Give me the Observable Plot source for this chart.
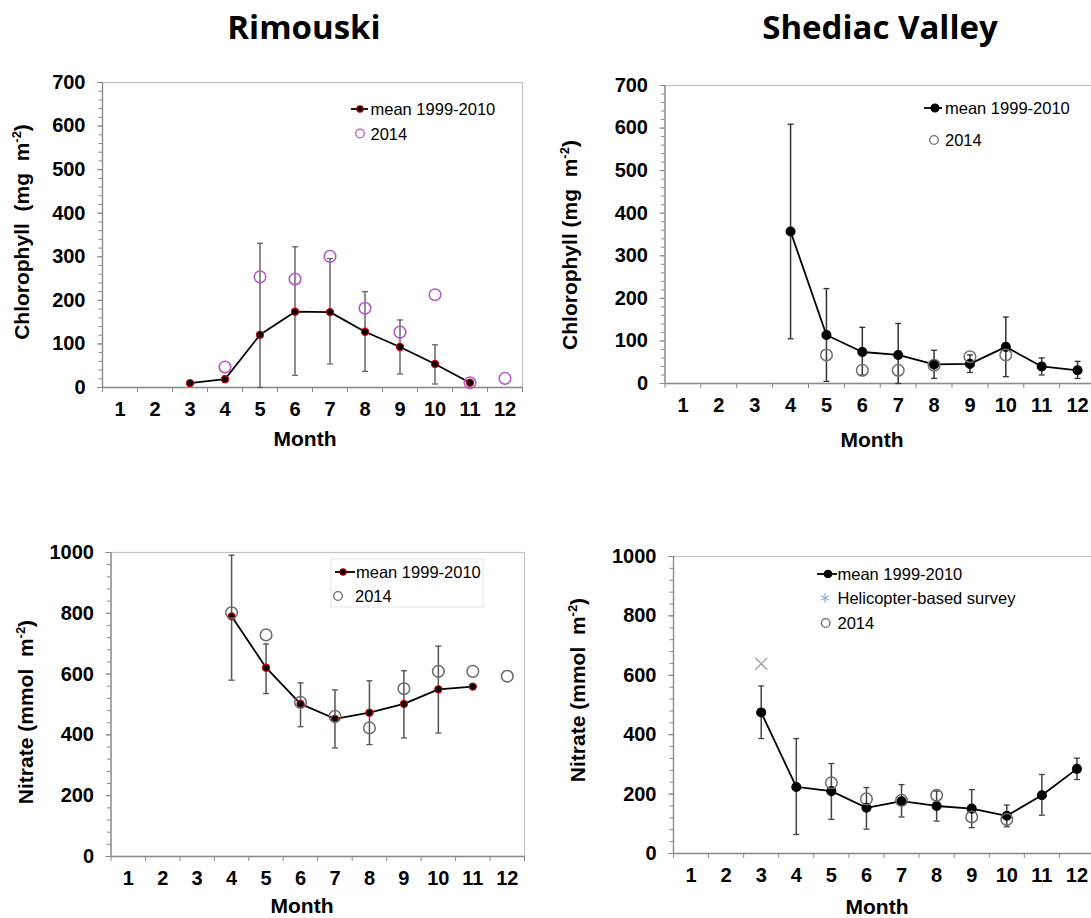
<!DOCTYPE html>
<html><head><meta charset="utf-8">
<script src="https://cdn.jsdelivr.net/npm/d3@7"></script>
<script src="https://cdn.jsdelivr.net/npm/@observablehq/plot@0.6"></script>
<style>
html,body{margin:0;padding:0;background:#fff;overflow:hidden;}
#page{position:relative;width:1091px;height:918px;overflow:hidden;background:#fff;}
.panel{position:absolute;}
.panel text{font-family:'Liberation Sans', Arial, sans-serif !important;font-size:20px !important;font-weight:bold !important;}
#overlay{position:absolute;left:0;top:0;pointer-events:none;}
</style></head><body><div id="page"></div>
<script>
// ---------- data ----------
const monthTicks = [1,2,3,4,5,6,7,8,9,10,11,12];

// Rimouski chlorophyll (mg m-2)
const rimChlMonths = [3,4,5,6,7,8,9,10,11];
const rimChlMean   = [10,19,121,174,173,128,93,54,11];
const rimChlLow    = [null,13,0,28,54,37,31,8,null];
const rimChlHigh   = [null,26,331,323,296,220,155,98,null];
const rimChl2014Months = [4,5,6,7,8,9,10,11,12];
const rimChl2014       = [47,254,249,301,182,127,213,11,21];

// Shediac Valley chlorophyll (mg m-2)
const shdChlMonths = [4,5,6,7,8,9,10,11,12];
const shdChlMean   = [357,114,74,67,45,46,86,40,31];
const shdChlLow    = [105,5,20,0,12,26,16,20,12];
const shdChlHigh   = [609,223,132,141,78,67,156,60,52];
const shdChl2014Months = [5,6,7,8,9,10];
const shdChl2014       = [67,31,31,43,63,67];

// Rimouski nitrate (mmol m-2)
const rimNitMonths = [4,5,6,7,8,9,10,11];
const rimNitMean   = [790,621,502,453,473,502,550,559];
const rimNitLow    = [580,536,427,357,368,390,406,null];
const rimNitHigh   = [991,699,571,548,578,611,692,null];
const rimNit2014Months = [4,5,6,7,8,9,10,11,12];
const rimNit2014       = [802,729,507,461,423,552,609,609,593];

// Shediac Valley nitrate (mmol m-2)
const shdNitMonths = [3,4,5,6,7,8,9,10,11,12];
const shdNitMean   = [475,224,210,154,176,160,151,127,196,285];
const shdNitLow    = [387,64,115,82,123,109,87,90,129,249];
const shdNitHigh   = [564,387,303,222,232,210,215,163,266,321];
const shdNitHeliMonths = [3];
const shdNitHeli       = [639];
const shdNit2014Months = [5,6,7,8,9,10];
const shdNit2014       = [238,184,179,196,123,115];

const titles = ["Rimouski", "Shediac Valley"];
const legendMean = "mean 1999-2010";
const legendObs = "2014";
const legendHeli = "Helicopter-based survey";

// ---------- helpers ----------
const zip = (ms, vs) => ms.map((m, i) => ({m, v: vs[i]})).filter(d => d.v != null);
const zipErr = (ms, lo, hi) => ms.map((m, i) => ({m, lo: lo[i], hi: hi[i]})).filter(d => d.lo != null && d.hi != null);
const capSymbol = {draw(ctx) { ctx.moveTo(-3, 0); ctx.lineTo(3, 0); }};
const FONT = "'Liberation Sans', Arial, sans-serif";

const page = document.getElementById("page");

function panel(cfg) {
  const {box, frame} = cfg;
  const mean = zip(cfg.meanMonths, cfg.mean);
  const err = zipErr(cfg.meanMonths, cfg.low, cfg.high);
  const caps = err.flatMap(d => [{m: d.m, v: d.lo}, {m: d.m, v: d.hi}]);
  const obs = zip(cfg.obsMonths, cfg.obs);
  const heli = cfg.heliMonths ? zip(cfg.heliMonths, cfg.heli) : [];
  const boundaries = d3.range(0.5, 12.6, 1);
  const chart = Plot.plot({
    width: box.w, height: box.h,
    marginLeft: frame.l - box.x, marginRight: box.x + box.w - frame.r,
    marginTop: frame.t - box.y, marginBottom: box.y + box.h - frame.b,
    x: {domain: [0.5, 12.5]},
    y: {domain: [0, cfg.yMax]},
    style: {fontFamily: FONT, fontSize: "20px", fontWeight: "bold", color: "#000", background: "transparent", overflow: "visible"},
    marks: [
      Plot.frame({stroke: "#c4c4c4", strokeWidth: 1.2}),
      Plot.ruleY([0], {stroke: "#8a8a8a", strokeWidth: 1.3}),
      Plot.ruleX([0.5], {stroke: "#8a8a8a", strokeWidth: 1.3}),
      Plot.axisY({ticks: d3.range(0, cfg.yMax + 1, cfg.yMajor), tickFormat: d => String(d), tickSize: 5, tickPadding: 12, stroke: "#8a8a8a", fill: "#000", label: null}),
      Plot.axisY({ticks: d3.range(0, cfg.yMax + 1, cfg.yMinor), tickSize: 3.5, tickFormat: () => "", stroke: "#8a8a8a", label: null}),
      Plot.axisX({ticks: monthTicks, tickFormat: d => String(d), tickSize: 0, tickPadding: 14, fill: "#000", label: null}),
      Plot.axisX({ticks: boundaries, tickSize: 5, tickFormat: () => "", stroke: "#8a8a8a", label: null}),
      Plot.ruleX(err, {x: "m", y1: "lo", y2: "hi", stroke: cfg.errColor, strokeWidth: 1.5}),
      Plot.dot(caps, {x: "m", y: "v", symbol: capSymbol, stroke: cfg.errColor, strokeWidth: 1.3, r: 3}),
      Plot.line(mean, {x: "m", y: "v", stroke: "#000", strokeWidth: 1.8}),
      Plot.dot(mean, {x: "m", y: "v", r: cfg.meanR, fill: "#000", stroke: cfg.meanStroke, strokeWidth: 1.1}),
      Plot.dot(heli, {x: "m", y: "v", symbol: "times", r: 5.5, stroke: "#a0a0a0", strokeWidth: 1.3}),
      Plot.dot(obs, {x: "m", y: "v", r: 5.8, fill: "none", stroke: cfg.obsColor, strokeWidth: 1.5})
    ]
  });
  chart.classList.add("panel");
  chart.style.left = box.x + "px";
  chart.style.top = box.y + "px";
  page.appendChild(chart);
}

panel({
  box: {x: 0, y: 50, w: 545, h: 410}, frame: {l: 102, r: 522, t: 82, b: 387},
  yMax: 700, yMajor: 100, yMinor: 20,
  meanMonths: rimChlMonths, mean: rimChlMean, low: rimChlLow, high: rimChlHigh,
  obsMonths: rimChl2014Months, obs: rimChl2014,
  meanR: 3.6, meanStroke: "#d40000", obsColor: "#b455c9", errColor: "#666"
});
panel({
  box: {x: 545, y: 50, w: 550, h: 410}, frame: {l: 664.5, r: 1095, t: 85, b: 383},
  yMax: 700, yMajor: 100, yMinor: 20,
  meanMonths: shdChlMonths, mean: shdChlMean, low: shdChlLow, high: shdChlHigh,
  obsMonths: shdChl2014Months, obs: shdChl2014,
  meanR: 4.5, meanStroke: "#000", obsColor: "#707070", errColor: "#333"
});
panel({
  box: {x: 0, y: 520, w: 545, h: 398}, frame: {l: 110.5, r: 524, t: 552, b: 856},
  yMax: 1000, yMajor: 200, yMinor: 40,
  meanMonths: rimNitMonths, mean: rimNitMean, low: rimNitLow, high: rimNitHigh,
  obsMonths: rimNit2014Months, obs: rimNit2014,
  meanR: 3.6, meanStroke: "#d40000", obsColor: "#6a6a6a", errColor: "#555"
});
panel({
  box: {x: 545, y: 520, w: 550, h: 398}, frame: {l: 673, r: 1094, t: 556, b: 853},
  yMax: 1000, yMajor: 200, yMinor: 40,
  meanMonths: shdNitMonths, mean: shdNitMean, low: shdNitLow, high: shdNitHigh,
  obsMonths: shdNit2014Months, obs: shdNit2014,
  heliMonths: shdNitHeliMonths, heli: shdNitHeli,
  meanR: 4.5, meanStroke: "#000", obsColor: "#6a6a6a", errColor: "#444"
});

// ---------- overlay: titles, axis titles, legends ----------
const svg = d3.select(page).append("svg").attr("id", "overlay")
  .attr("width", 1091).attr("height", 918)
  .style("font-family", FONT);

svg.append("text").attr("x", 304).attr("y", 39).attr("text-anchor", "middle")
  .style("font-family", "'Open Sans', sans-serif").style("font-weight", 700).style("font-size", "33px").text(titles[0]);
svg.append("text").attr("x", 880).attr("y", 39).attr("text-anchor", "middle")
  .style("font-family", "'Open Sans', sans-serif").style("font-weight", 700).style("font-size", "33px").text(titles[1]);

function yTitle(x, y, main) {
  const t = svg.append("text").attr("transform", `translate(${x},${y}) rotate(-90)`)
    .attr("text-anchor", "middle").style("font-weight", "bold").style("font-size", "21px")
    .style("white-space", "pre");
  t.append("tspan").text(main);
  t.append("tspan").attr("dy", -8).style("font-size", "13px").text("-2");
  t.append("tspan").attr("dy", 8).text(")");
}
yTitle(29, 232, "Chlorophyll  (mg  m");
yTitle(577, 245, "Chlorophyll (mg  m");
yTitle(33, 712, "Nitrate (mmol  m");
yTitle(585, 690, "Nitrate (mmol  m");

function xTitle(x, y) {
  svg.append("text").attr("x", x).attr("y", y).attr("text-anchor", "middle")
    .style("font-weight", "bold").style("font-size", "21px").text("Month");
}
xTitle(305, 446); xTitle(872, 447); xTitle(302, 913); xTitle(877, 914);

function legendMeanItem(x1, x2, y, dotX, r, stroke, tx) {
  svg.append("line").attr("x1", x1).attr("x2", x2).attr("y1", y).attr("y2", y).attr("stroke", "#000").attr("stroke-width", 1.8);
  svg.append("circle").attr("cx", dotX).attr("cy", y).attr("r", r).attr("fill", "#000").attr("stroke", stroke).attr("stroke-width", 1.1);
  svg.append("text").attr("x", tx).attr("y", y + 6).style("font-size", "16.5px").text(legendMean);
}
function legendObsItem(cx, y, color, tx) {
  svg.append("circle").attr("cx", cx).attr("cy", y).attr("r", 4.3).attr("fill", "none").attr("stroke", color).attr("stroke-width", 1.3);
  svg.append("text").attr("x", tx).attr("y", y + 6).style("font-size", "16.5px").text(legendObs);
}

// Panel 1 legend
legendMeanItem(351, 368, 109, 360, 3.2, "#d40000", 370.5);
legendObsItem(360, 133.5, "#b455c9", 370.5);
// Panel 2 legend
legendMeanItem(924, 942, 108, 935, 4, "#000", 945);
legendObsItem(934, 140, "#707070", 945);
// Panel 3 legend (boxed)
svg.append("rect").attr("x", 331).attr("y", 559).attr("width", 152).attr("height", 48).attr("fill", "#fff").attr("stroke", "#e4e4e4");
legendMeanItem(335, 355, 572, 343, 3.2, "#d40000", 356);
legendObsItem(338, 596, "#6a6a6a", 355);
// Panel 4 legend
legendMeanItem(817, 837, 574, 828, 3.8, "#000", 837.5);
svg.append("path").attr("transform", "translate(825,598)").attr("d", d3.symbol(d3.symbolAsterisk, 60)())
  .attr("fill", "none").attr("stroke", "#8fb4e3").attr("stroke-width", 1.2);
svg.append("text").attr("x", 837.5).attr("y", 604).style("font-size", "16.5px").text(legendHeli);
legendObsItem(825.7, 623, "#6a6a6a", 837.5);
</script></body></html>
